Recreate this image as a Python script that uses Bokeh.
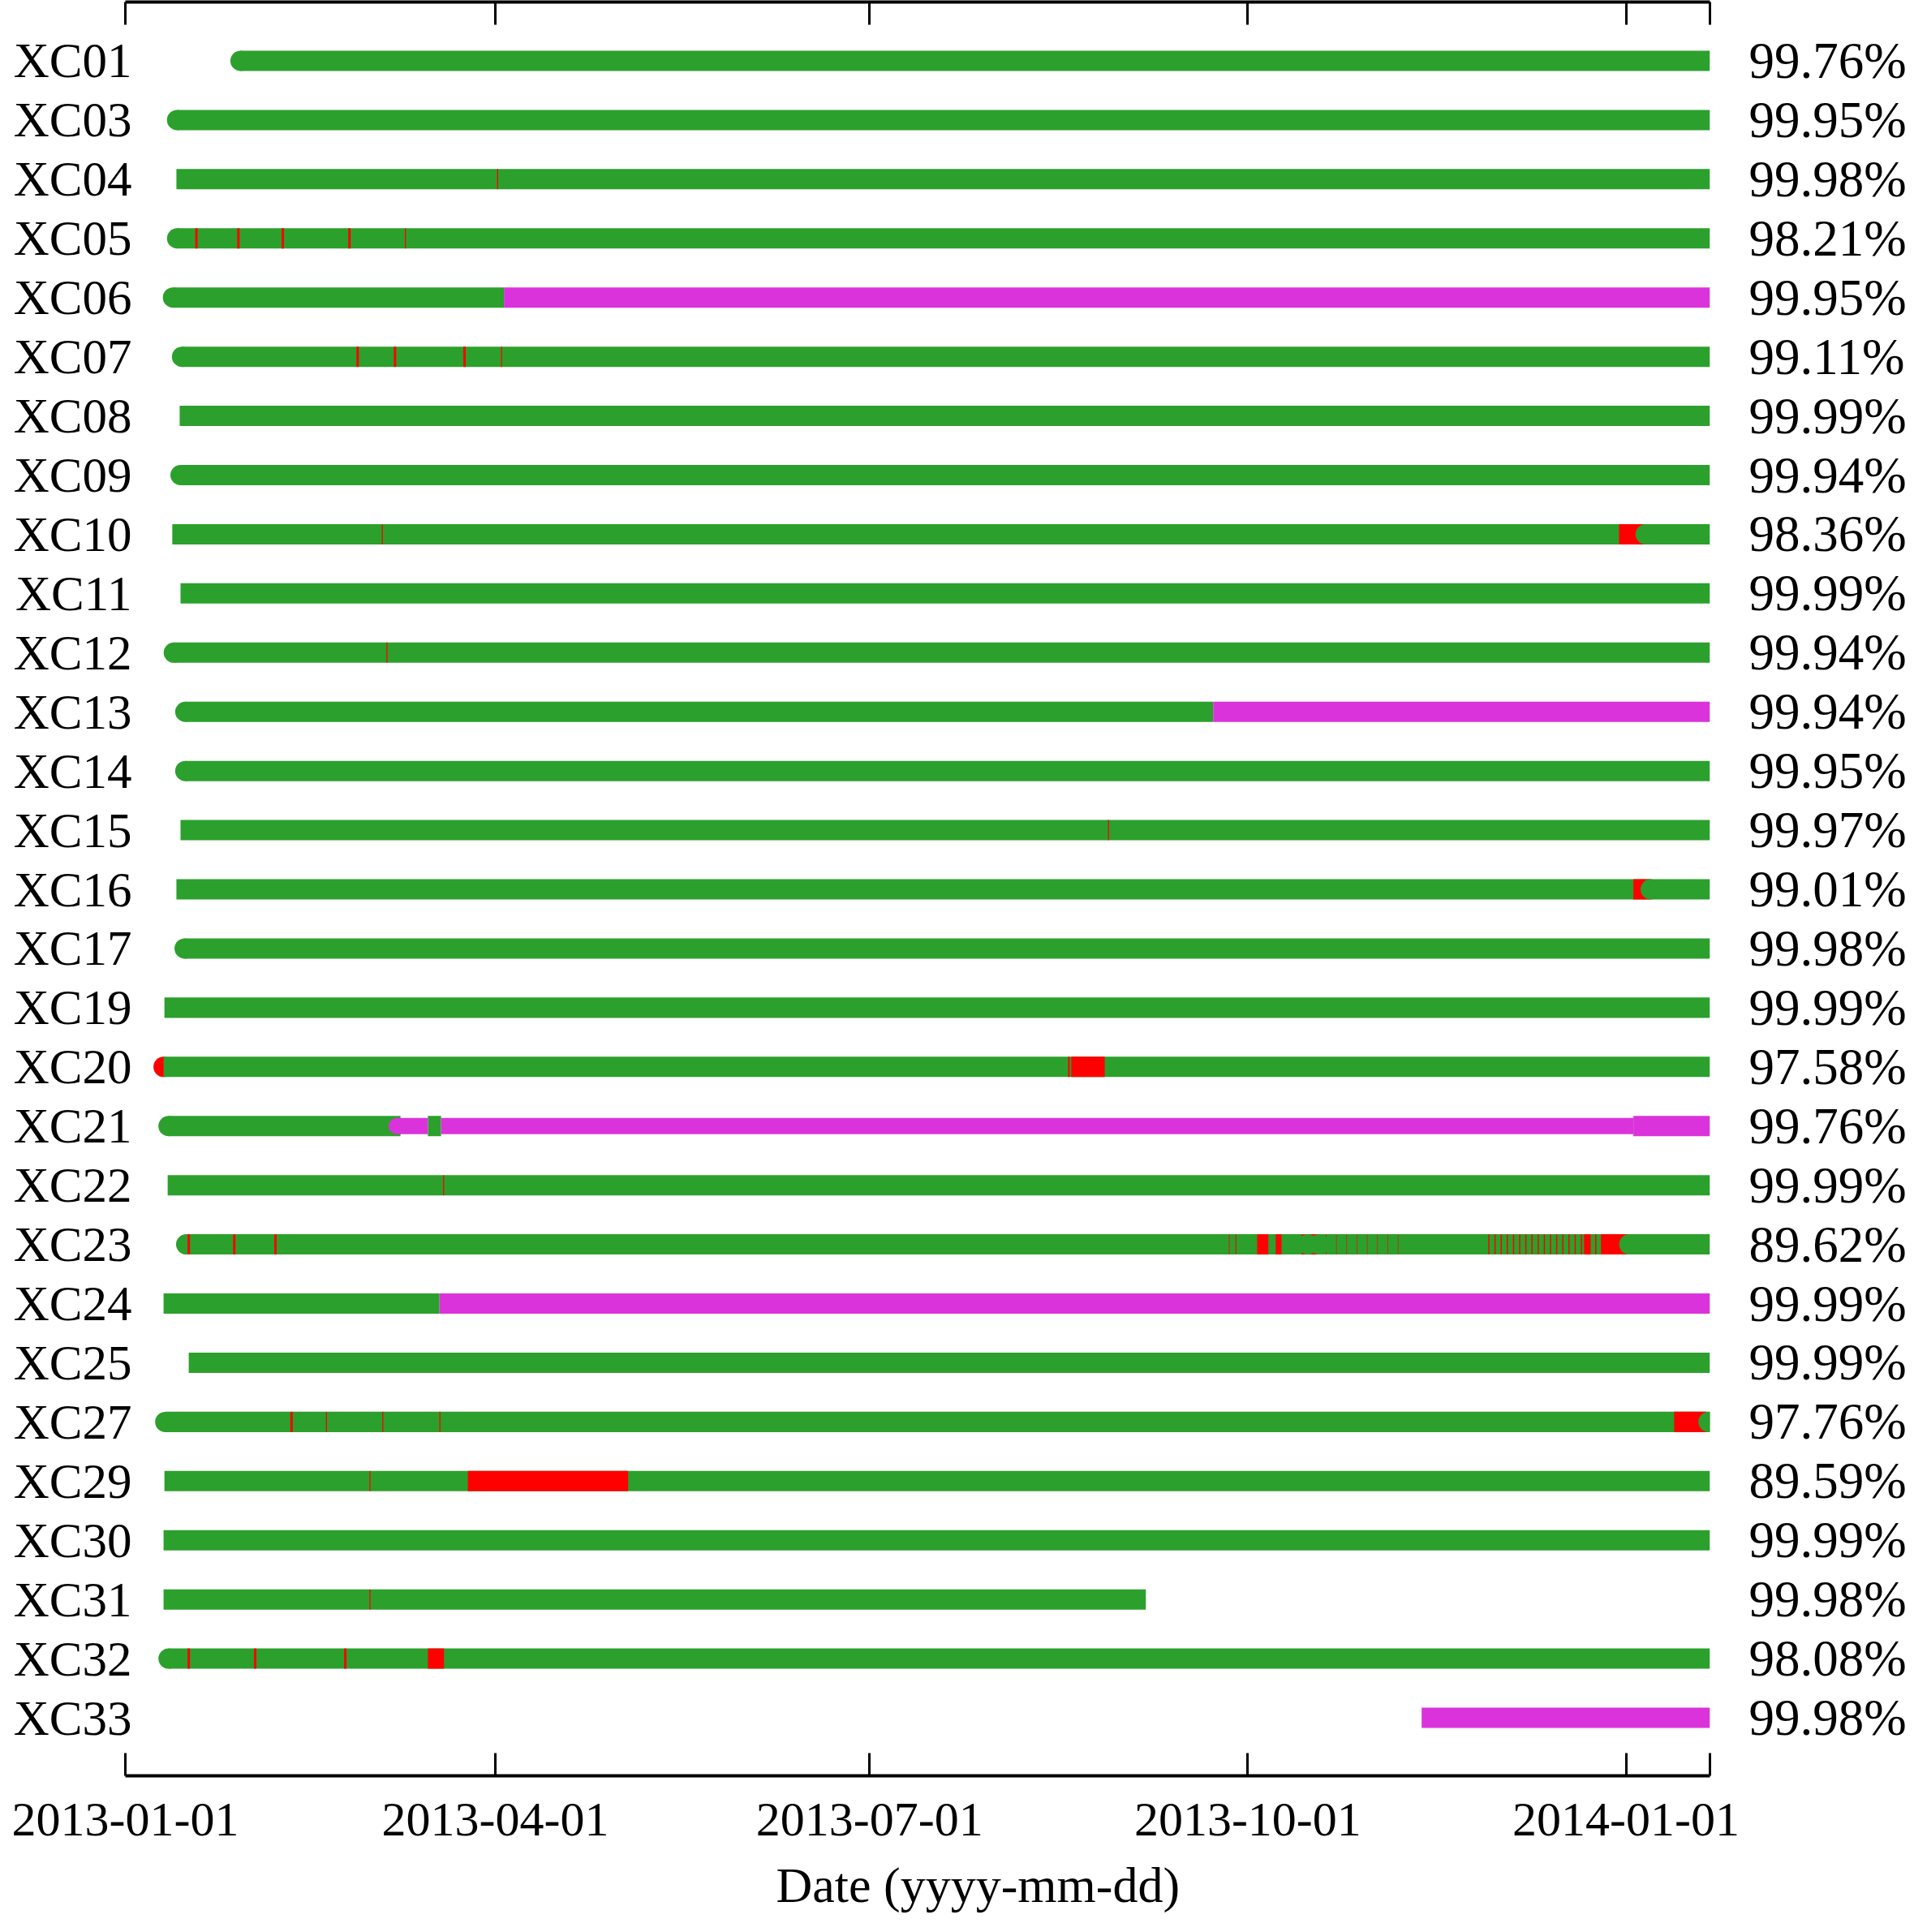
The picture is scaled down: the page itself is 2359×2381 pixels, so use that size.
import pandas as pd
from bokeh.plotting import figure
from bokeh.models import (Range1d, FixedTicker, LinearAxis, DatetimeAxis,
                          DatetimeTickFormatter, ColumnDataSource, Title)
from bokeh.embed import file_html
from bokeh.resources import INLINE

# ---------------- data ----------------
stations = ["XC01", "XC03", "XC04", "XC05", "XC06", "XC07", "XC08", "XC09", "XC10",
            "XC11", "XC12", "XC13", "XC14", "XC15", "XC16", "XC17", "XC19", "XC20",
            "XC21", "XC22", "XC23", "XC24", "XC25", "XC27", "XC29", "XC30", "XC31",
            "XC32", "XC33"]
completeness = ["99.76%", "99.95%", "99.98%", "98.21%", "99.95%", "99.11%", "99.99%",
                "99.94%", "98.36%", "99.99%", "99.94%", "99.94%", "99.95%", "99.97%",
                "99.01%", "99.98%", "99.99%", "97.58%", "99.76%", "99.99%", "89.62%",
                "99.99%", "99.99%", "97.76%", "89.59%", "99.99%", "99.98%", "98.08%",
                "99.98%"]
x_ticks = ["2013-01-01", "2013-04-01", "2013-07-01", "2013-10-01", "2014-01-01"]
x_title = "Date (yyyy-mm-dd)"
START = "2013-01-01"
END = "2014-01-21 10:00"

# continuous data (green)
green_bars = [
    ("XC01", "2013-01-29 00:00", END), ("XC03", "2013-01-13 14:00", END),
    ("XC04", "2013-01-13 10:00", END), ("XC05", "2013-01-13 14:00", END),
    ("XC06", "2013-01-12 14:00", "2013-04-03 02:00"), ("XC07", "2013-01-14 19:00", END),
    ("XC08", "2013-01-14 05:00", END), ("XC09", "2013-01-14 10:00", END),
    ("XC10", "2013-01-12 10:00", END), ("XC11", "2013-01-14 10:00", END),
    ("XC12", "2013-01-12 19:00", END), ("XC13", "2013-01-15 14:00", "2013-09-22 14:00"),
    ("XC14", "2013-01-15 14:00", END), ("XC15", "2013-01-14 10:00", END),
    ("XC16", "2013-01-13 10:00", END), ("XC17", "2013-01-15 10:00", END),
    ("XC19", "2013-01-10 12:00", END), ("XC20", "2013-01-10 07:00", END),
    ("XC21", "2013-01-11 12:00", "2013-03-08 22:00"),
    ("XC21", "2013-03-15 14:00", "2013-03-18 19:00"),
    ("XC22", "2013-01-11 07:00", END), ("XC23", "2013-01-15 19:00", END),
    ("XC24", "2013-01-10 07:00", "2013-03-18 10:00"), ("XC25", "2013-01-16 10:00", END),
    ("XC27", "2013-01-10 17:00", END), ("XC29", "2013-01-10 12:00", END),
    ("XC30", "2013-01-10 07:00", END), ("XC31", "2013-01-10 07:00", "2013-09-06 05:00"),
    ("XC32", "2013-01-11 12:00", END),
]
# other receiver (magenta)
magenta_bars = [
    ("XC06", "2013-04-03 02:00", END), ("XC13", "2013-09-22 14:00", END),
    ("XC21", "2014-01-02 19:00", END), ("XC24", "2013-03-18 10:00", END),
    ("XC33", "2013-11-12 07:00", END),
]
magenta_lines = [
    ("XC21", "2013-03-08 00:00", "2013-03-15 14:00"),
    ("XC21", "2013-03-18 19:00", "2014-01-02 19:00"),
]
# gaps (red)
red_bars = [
    ("XC04", "2013-04-01 10:00", "2013-04-01 16:00"),
    ("XC05", "2013-01-18 00:00", "2013-01-18 14:00"), ("XC05", "2013-01-28 05:00", "2013-01-28 19:00"),
    ("XC05", "2013-02-08 00:00", "2013-02-08 14:00"), ("XC05", "2013-02-24 05:00", "2013-02-24 19:00"),
    ("XC05", "2013-03-10 00:00", "2013-03-10 06:00"),
    ("XC07", "2013-02-26 05:00", "2013-02-26 19:00"), ("XC07", "2013-03-07 07:00", "2013-03-07 21:00"),
    ("XC07", "2013-03-24 05:00", "2013-03-24 19:00"), ("XC07", "2013-04-02 09:00", "2013-04-02 15:00"),
    ("XC10", "2013-03-04 09:00", "2013-03-04 15:00"), ("XC10", "2013-12-30 07:00", "2014-01-05 19:00"),
    ("XC12", "2013-03-05 12:00", "2013-03-05 18:00"),
    ("XC15", "2013-08-28 00:00", "2013-08-28 06:00"),
    ("XC16", "2014-01-02 19:00", "2014-01-07 00:00"),
    ("XC20", "2013-08-18 07:00", "2013-08-18 17:00"), ("XC20", "2013-08-19 02:00", "2013-08-27 05:00"),
    ("XC22", "2013-03-19 07:00", "2013-03-19 13:00"),
    ("XC23", "2013-01-16 03:00", "2013-01-16 17:00"), ("XC23", "2013-01-27 05:00", "2013-01-27 19:00"),
    ("XC23", "2013-02-06 05:00", "2013-02-06 19:00"),
    ("XC23", "2013-09-26 10:00", "2013-09-26 14:00"), ("XC23", "2013-09-28 00:00", "2013-09-28 05:00"),
    ("XC23", "2013-10-03 07:00", "2013-10-06 00:00"), ("XC23", "2013-10-07 19:00", "2013-10-09 05:00"),
    ("XC23", "2013-10-14 02:00", "2013-10-18 10:00"),
    ("XC23", "2013-10-20 00:00", "2013-10-20 03:00"), ("XC23", "2013-10-22 12:00", "2013-10-22 15:00"),
    ("XC23", "2013-10-25 00:00", "2013-10-25 03:00"), ("XC23", "2013-10-27 12:00", "2013-10-27 15:00"),
    ("XC23", "2013-10-30 00:00", "2013-10-30 03:00"), ("XC23", "2013-11-01 12:00", "2013-11-01 15:00"),
    ("XC23", "2013-11-04 00:00", "2013-11-04 03:00"), ("XC23", "2013-11-06 12:00", "2013-11-06 15:00"),
    ("XC23", "2013-11-28 12:00", "2013-11-28 19:00"), ("XC23", "2013-11-30 00:00", "2013-11-30 07:00"),
    ("XC23", "2013-12-01 12:00", "2013-12-01 19:00"), ("XC23", "2013-12-03 00:00", "2013-12-03 07:00"),
    ("XC23", "2013-12-04 12:00", "2013-12-04 19:00"), ("XC23", "2013-12-06 00:00", "2013-12-06 07:00"),
    ("XC23", "2013-12-07 12:00", "2013-12-07 19:00"), ("XC23", "2013-12-09 00:00", "2013-12-09 07:00"),
    ("XC23", "2013-12-10 12:00", "2013-12-10 19:00"), ("XC23", "2013-12-12 00:00", "2013-12-12 07:00"),
    ("XC23", "2013-12-13 12:00", "2013-12-13 19:00"), ("XC23", "2013-12-15 00:00", "2013-12-15 07:00"),
    ("XC23", "2013-12-16 12:00", "2013-12-16 19:00"), ("XC23", "2013-12-18 00:00", "2013-12-18 07:00"),
    ("XC23", "2013-12-19 12:00", "2013-12-19 19:00"), ("XC23", "2013-12-21 00:00", "2013-12-21 07:00"),
    ("XC23", "2013-12-21 19:00", "2013-12-23 10:00"), ("XC23", "2013-12-24 12:00", "2013-12-24 19:00"),
    ("XC23", "2013-12-25 22:00", "2014-01-01 19:00"),
    ("XC27", "2013-02-10 03:00", "2013-02-10 17:00"), ("XC27", "2013-02-18 19:00", "2013-02-19 01:00"),
    ("XC27", "2013-03-04 12:00", "2013-03-04 18:00"), ("XC27", "2013-03-18 09:00", "2013-03-18 15:00"),
    ("XC27", "2014-01-12 17:00", "2014-01-20 12:00"),
    ("XC29", "2013-03-01 09:00", "2013-03-01 15:00"), ("XC29", "2013-03-25 07:00", "2013-05-03 07:00"),
    ("XC31", "2013-03-01 09:00", "2013-03-01 15:00"),
    ("XC32", "2013-01-16 03:00", "2013-01-16 17:00"), ("XC32", "2013-02-01 07:00", "2013-02-01 21:00"),
    ("XC32", "2013-02-23 05:00", "2013-02-23 19:00"), ("XC32", "2013-03-15 14:00", "2013-03-19 12:00"),
]
# first-day markers (drawn beneath the bars)
green_lead_dots = [
    ("XC01", "2013-01-29 00:00"), ("XC03", "2013-01-13 14:00"), ("XC05", "2013-01-13 14:00"),
    ("XC06", "2013-01-12 14:00"), ("XC07", "2013-01-14 19:00"), ("XC09", "2013-01-14 10:00"),
    ("XC12", "2013-01-12 19:00"), ("XC13", "2013-01-15 14:00"), ("XC14", "2013-01-15 14:00"),
    ("XC17", "2013-01-15 10:00"), ("XC21", "2013-01-11 12:00"), ("XC23", "2013-01-15 19:00"),
    ("XC27", "2013-01-10 17:00"), ("XC32", "2013-01-11 12:00"),
]
red_lead_dots = [("XC20", "2013-01-10 07:00")]
# restart markers (drawn on top)
green_resume_dots = [
    ("XC10", "2014-01-05 19:00"), ("XC16", "2014-01-07 00:00"), ("XC23", "2013-10-15 14:00"),
    ("XC23", "2013-10-18 10:00"), ("XC23", "2014-01-01 19:00"), ("XC27", "2014-01-21 02:00"),
]
magenta_resume_dots = [("XC21", "2013-03-08 00:00")]

GREEN = "#2ca02c"
RED = "#ff0000"
MAGENTA = "#db33db"
FONT = "Liberation Serif"

row = {s: i for i, s in enumerate(stations)}


def bars(items):
    return ColumnDataSource(dict(
        y=[row[s] for s, _, _ in items],
        left=pd.to_datetime([a for _, a, _ in items]),
        right=pd.to_datetime([b for _, _, b in items])))


def dots(items):
    return ColumnDataSource(dict(
        y=[row[s] for s, _ in items],
        x=pd.to_datetime([d for _, d in items])))


W, H = 2358, 2380
FRAME_L, FRAME_R, FRAME_B = 154, 2107, 2188
p = figure(width=W, height=H, output_backend="svg", toolbar_location=None,
           x_range=Range1d(pd.Timestamp(START), pd.Timestamp(END)),
           y_range=Range1d(28.98, -0.994),
           x_axis_location=None, y_axis_location=None,
           min_border_left=FRAME_L, min_border_right=W - FRAME_R,
           min_border_top=2, min_border_bottom=H - FRAME_B)
p.outline_line_color = None
p.grid.visible = False
p.background_fill_color = "white"
p.border_fill_color = "white"

BAR_H = 0.343
LINE_H = 0.274
DOT = 25

p.scatter("x", "y", source=dots(red_lead_dots), size=DOT, fill_color=RED, line_color=None)
p.scatter("x", "y", source=dots(green_lead_dots), size=DOT, fill_color=GREEN, line_color=None)
p.hbar(y="y", left="left", right="right", height=BAR_H, source=bars(green_bars),
       fill_color=GREEN, line_color=None)
p.hbar(y="y", left="left", right="right", height=LINE_H, source=bars(magenta_lines),
       fill_color=MAGENTA, line_color=None)
p.hbar(y="y", left="left", right="right", height=BAR_H, source=bars(magenta_bars),
       fill_color=MAGENTA, line_color=None)
p.hbar(y="y", left="left", right="right", height=BAR_H, source=bars(red_bars),
       fill_color=RED, line_color=None)
p.scatter("x", "y", source=dots(green_resume_dots), size=DOT, fill_color=GREEN, line_color=None)
p.scatter("x", "y", source=dots(magenta_resume_dots), size=LINE_H / BAR_H * DOT,
          fill_color=MAGENTA, line_color=None)

# ---------------- axes ----------------
tick_ms = [pd.Timestamp(t).timestamp() * 1000.0 for t in x_ticks]
end_ms = pd.Timestamp(END).timestamp() * 1000.0
fmt_str = "%Y-%m-%d"
fmt = DatetimeTickFormatter(milliseconds=fmt_str, seconds=fmt_str, minsec=fmt_str,
                            minutes=fmt_str, hourmin=fmt_str, hours=fmt_str,
                            days=fmt_str, months=fmt_str, years=fmt_str)


def style_x(ax):
    ax.axis_line_width = 4
    ax.axis_line_color = "black"
    ax.major_tick_line_width = 3
    ax.major_tick_line_color = "black"
    ax.major_tick_in = 28
    ax.major_tick_out = 0
    ax.minor_tick_line_color = None
    ax.major_label_text_font = FONT
    ax.major_label_text_color = "black"


xb = DatetimeAxis(ticker=FixedTicker(ticks=tick_ms + [end_ms]), formatter=fmt,
                  major_label_overrides={end_ms: ""})
style_x(xb)
xb.major_label_text_font_size = "60px"
xb.major_label_standoff = 34
p.add_layout(xb, "below")

xa = DatetimeAxis(ticker=FixedTicker(ticks=tick_ms + [end_ms]), formatter=fmt)
style_x(xa)
xa.major_label_text_font_size = "1px"
xa.major_label_text_color = None
xa.major_label_standoff = 0
p.add_layout(xa, "above")

# x-axis title (as a below title so it can be shifted horizontally)
p.add_layout(Title(text=x_title, align="left", offset=802, standoff=44,
                   text_font=FONT, text_font_size="62px", text_font_style="normal",
                   text_color="black"), "below")

ytick = list(range(len(stations)))
yl = LinearAxis(ticker=FixedTicker(ticks=ytick),
                major_label_overrides={i: s for i, s in enumerate(stations)})
yr = LinearAxis(ticker=FixedTicker(ticks=ytick),
                major_label_overrides={i: c for i, c in enumerate(completeness)})
for ax in (yl, yr):
    ax.axis_line_color = None
    ax.major_tick_line_color = None
    ax.minor_tick_line_color = None
    ax.major_tick_in = 0
    ax.major_tick_out = 0
    ax.major_label_text_font = FONT
    ax.major_label_text_color = "black"
yl.major_label_text_font_size = "61px"
yr.major_label_text_font_size = "63px"
yl.major_label_standoff = -8
yr.major_label_standoff = 48
p.add_layout(yl, "left")
p.add_layout(yr, "right")

open("out.html", "w").write(file_html(p, INLINE))
